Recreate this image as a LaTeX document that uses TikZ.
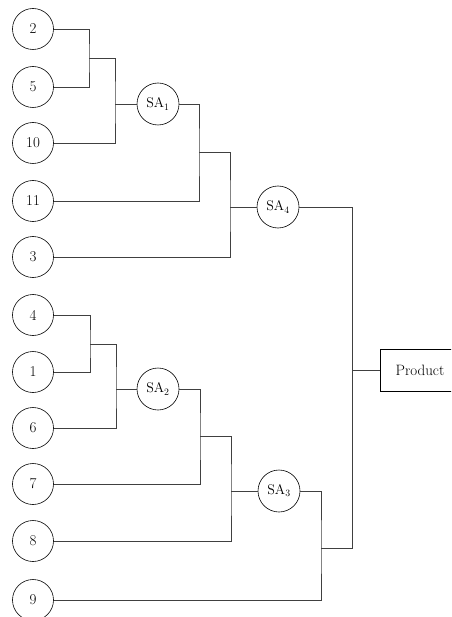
\documentclass[tikz,border=0pt]{standalone}
\usepackage{tikz}
\usetikzlibrary{calc}

\begin{document}
\begin{tikzpicture}[x=1pt,y=-1pt,
        part/.style={circle,draw,line width=0.6pt,minimum size=41pt,inner sep=0pt,font=\fontsize{15}{17}\selectfont},
        sub/.style={circle,draw,line width=0.6pt,minimum size=42pt,inner sep=0pt,font=\fontsize{14}{16}\selectfont},
        prod/.style={rectangle,draw,line width=0.6pt,minimum width=80pt,minimum height=42pt,font=\fontsize{15}{17}\selectfont},
        wire/.style={draw=black!75,line width=0.8pt}]
    \useasboundingbox (0,0) rectangle (451,617);
    \clip (0,0) rectangle (451,617);
    % parts
    \node[part] (p2) at (33,29) {2};
    \node[part] (p5) at (33,87) {5};
    \node[part] (p10) at (33,143) {10};
    \node[part] (p11) at (33,201) {11};
    \node[part] (p3) at (33,257) {3};
    \node[part] (p4) at (33,315) {4};
    \node[part] (p1) at (33,372) {1};
    \node[part] (p6) at (33,428) {6};
    \node[part] (p7) at (33,484) {7};
    \node[part] (p8) at (33,541) {8};
    \node[part] (p9) at (33,600) {9};
    % subassemblies
    \node[sub] (sa1) at (158,104) {SA\textsubscript{1}};
    \node[sub] (sa2) at (158,389) {SA\textsubscript{2}};
    \node[sub] (sa3) at (279,491) {SA\textsubscript{3}};
    \node[sub] (sa4) at (278,207) {SA\textsubscript{4}};
    \node[prod] (prod) at (420,370) {Product};
    % joints
    \coordinate (a1) at (89,58);
    \coordinate (b1) at (115,104);
    \coordinate (c1) at (199,152);
    \coordinate (d1) at (230,207);
    \coordinate (a2) at (90,344);
    \coordinate (b2) at (116,389);
    \coordinate (c2) at (200,436);
    \coordinate (d2) at (231,491);
    \coordinate (f3) at (321,548);
    \coordinate (e) at (352,370);
    % upper branch
    \draw[wire] (p2.east) -| (a1) |- (p5.east);
    \draw[wire] (a1) -| (b1) |- (p10.east);
    \draw[wire] (b1) -- (sa1.west);
    \draw[wire] (sa1.east) -| (c1) |- (p11.east);
    \draw[wire] (c1) -| (d1) |- (p3.east);
    \draw[wire] (d1) -- (sa4.west);
    % lower branch
    \draw[wire] (p4.east) -| (a2) |- (p1.east);
    \draw[wire] (a2) -| (b2) |- (p6.east);
    \draw[wire] (b2) -- (sa2.west);
    \draw[wire] (sa2.east) -| (c2) |- (p7.east);
    \draw[wire] (c2) -| (d2) |- (p8.east);
    \draw[wire] (d2) -- (sa3.west);
    \draw[wire] (sa3.east) -| (f3) |- (p9.east);
    % final
    \draw[wire] (sa4.east) -| (e);
    \draw[wire] (f3) -| (e);
    \draw[wire] (e) -- (prod.west);
\end{tikzpicture}
\end{document}
